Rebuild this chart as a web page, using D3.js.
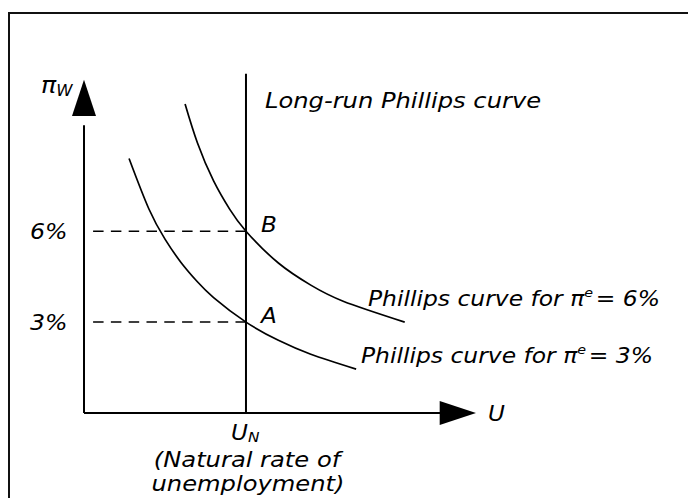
<!DOCTYPE html>
<html>
<head>
<meta charset="utf-8">
<script src="https://cdn.jsdelivr.net/npm/d3@7"></script>
<style>
  html, body { margin: 0; padding: 0; background: #fff; overflow: hidden; }
  svg { display: block; }
  svg text { font-family: "DejaVu Sans", Verdana, sans-serif; font-style: italic; fill: #000; }
</style>
</head>
<body>
<svg id="chart" width="688" height="498"></svg>
<script>
// Expectations-augmented Phillips curves and the long-run Phillips curve
const naturalRate = 5;                  // U_N
const expectedInflation = [3, 6];       // pi^e for each short-run curve
const yTickValues = [3, 6];
const yTickLabels = ["3%", "6%"];
const pointLabels = ["A", "B"];

// short-run curve for pi^e = 3%
const lowU  = [1.39, 2.0, 2.5, 3.0, 3.5, 4.0, 5.0, 6.0, 7.0, 8.4];
const lowPi = [8.4, 6.74, 5.74, 4.96, 4.33, 3.81, 3.0, 2.4, 1.94, 1.45];
// short-run curve for pi^e = 6%
const highU  = [3.12, 3.5, 4.0, 4.5, 5.0, 6.0, 7.0, 8.0, 9.9];
const highPi = [10.2, 8.92, 7.66, 6.72, 6.0, 4.95, 4.22, 3.69, 3.0];

const curveLabel = "Phillips curve for π";

const svg = d3.select("#chart");

const x = d3.scaleLinear().domain([0, 12.1]).range([84, 476]);
const y = d3.scaleLinear().domain([0, 11]).range([413, 79.7]);

// wide italic lettering
const SX = 1.1;
function label(px, py, size, anchor) {
  return svg.append("text")
    .attr("transform", `translate(${px},${py}) scale(${SX},1)`)
    .attr("font-size", size)
    .attr("text-anchor", anchor || "start");
}

// frame (top and left edges; it runs past the right and bottom)
svg.append("path")
  .attr("d", "M9,520 L9,13 L720,13")
  .attr("fill", "none").attr("stroke", "#111").attr("stroke-width", 2);

// axes
svg.append("line")
  .attr("x1", x(0)).attr("x2", x(0))
  .attr("y1", y(0)).attr("y2", y(9.5))
  .attr("stroke", "#000").attr("stroke-width", 2);
svg.append("line")
  .attr("x1", x(0)).attr("x2", x(11))
  .attr("y1", y(0)).attr("y2", y(0))
  .attr("stroke", "#000").attr("stroke-width", 2);

// arrowheads
svg.append("path")
  .attr("d", `M${x(0)},${y(11)} L${x(0) - 12},${y(9.8)} L${x(0) + 12},${y(9.8)} Z`)
  .attr("fill", "#000");
svg.append("path")
  .attr("d", `M${x(12.1)},${y(0)} L${x(10.98)},${y(0) - 12} L${x(10.98)},${y(0) + 12} Z`)
  .attr("fill", "#000");

// long-run Phillips curve (vertical at U_N)
svg.append("line")
  .attr("x1", x(naturalRate)).attr("x2", x(naturalRate))
  .attr("y1", y(0)).attr("y2", y(11.2))
  .attr("stroke", "#000").attr("stroke-width", 2);

// dashed guides at 3% and 6%
svg.selectAll("line.guide")
  .data(yTickValues)
  .join("line")
  .attr("class", "guide")
  .attr("x1", x(naturalRate)).attr("x2", x(0.28))
  .attr("y1", d => y(d)).attr("y2", d => y(d))
  .attr("stroke", "#000").attr("stroke-width", 1.5)
  .attr("stroke-dasharray", "10.5,7.3");

// tick labels
yTickValues.forEach((v, i) => {
  label(30, y(v) + 8, 21.5).text(yTickLabels[i]);
});

// short-run Phillips curves
const line = d3.line().x(d => x(d[0])).y(d => y(d[1])).curve(d3.curveNatural);
const curves = [d3.zip(lowU, lowPi), d3.zip(highU, highPi)];
svg.selectAll("path.src")
  .data(curves)
  .join("path")
  .attr("class", "src")
  .attr("d", line)
  .attr("fill", "none").attr("stroke", "#000").attr("stroke-width", 1.7);

// A and B
expectedInflation.forEach((v, i) => {
  label(x(naturalRate) + 15, y(v) + 1, 21).text(pointLabels[i]);
});

// axis titles
const piW = label(41, 93, 23);
piW.append("tspan").text("π");
piW.append("tspan").attr("font-size", 15).attr("dy", 3).text("W");

label(488, 421, 21).text("U");

const uN = label(231, 440, 21);
uN.append("tspan").text("U");
uN.append("tspan").attr("font-size", 14).attr("dy", 2).text("N");

label(247, 467, 22, "middle").text("(Natural rate of");
label(248, 491, 22, "middle").text("unemployment)");

label(265, 108, 22).text("Long-run Phillips curve");

// curve labels
const labelPos = [[361, 363], [368, 306]];
expectedInflation.forEach((pe, i) => {
  const t = label(labelPos[i][0], labelPos[i][1], 21.3);
  t.append("tspan").text(curveLabel);
  t.append("tspan").attr("font-size", 13).attr("dy", -9).text("e");
  t.append("tspan").attr("dy", 9).attr("dx", 2.5).text("= " + pe + "%");
});
</script>
</body>
</html>
